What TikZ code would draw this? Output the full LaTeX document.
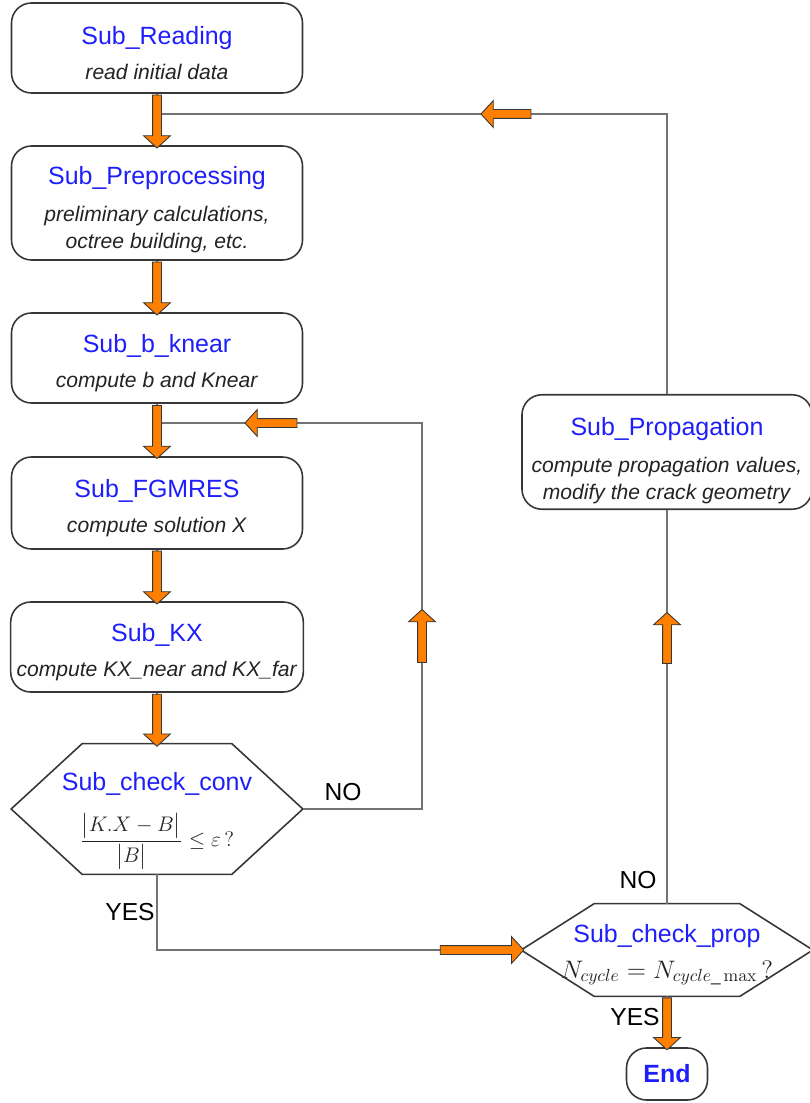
\documentclass[tikz,border=0pt]{standalone}
\usepackage{amsmath}
\usepackage[no-math]{fontspec}
\setmainfont{Liberation Sans}
\usepackage{tikz}
\usetikzlibrary{shapes.arrows, positioning}

\definecolor{subblue}{RGB}{30,30,250}
\definecolor{flowgray}{RGB}{115,115,115}
\definecolor{boxgray}{RGB}{55,55,55}
\definecolor{textgray}{RGB}{35,35,35}
\definecolor{arroworange}{RGB}{255,128,0}

\newcommand{\subname}[1]{\rule{0pt}{16pt}\textcolor{subblue}{\fontsize{14.2}{17}\selectfont #1}}

\begin{document}
\begin{tikzpicture}[x = 0.2mm, y = -0.2mm, font = \fontsize{12}{15}\selectfont]
  \tikzstyle{sub}    = [draw = boxgray, line width = 0.9pt, rounded corners = 4mm, minimum width = 58.2mm, align = center, text = textgray]
  \tikzstyle{hexnode} = [minimum width = 58.2mm, align = center, inner sep = 0pt, text = textgray]
  \tikzstyle{hexa}   = [draw = boxgray, line width = 0.9pt]
  \tikzstyle{flow}   = [draw = flowgray, line width = 1.1pt]
  \tikzstyle{fat}    = [single arrow, draw = boxgray, fill = arroworange, line width = 0.5pt, inner sep = 0.8mm, single arrow head extend = 1.8mm, single arrow tip angle = 95, minimum height = 10.6mm]
  \tikzstyle{answer} = [font = \fontsize{14}{17}\selectfont]

  \useasboundingbox (0,0) rectangle (809,1103);

  \node[sub, minimum height = 18mm]   (reading) at (157,48)  {\subname{Sub\_Reading}\\[5pt] \textit{read initial data}};
  \node[sub, minimum height = 22.8mm] (preproc) at (157,203) {\rule{0pt}{18pt}\subname{Sub\_Preprocessing}\\[6pt] \textit{preliminary calculations,}\\ \textit{octree building, etc.}};
  \node[sub, minimum height = 18mm]   (knear)   at (157,358) {\subname{Sub\_b\_knear}\\[5pt] \textit{compute b and Knear}};
  \node[sub, minimum height = 18.4mm] (fgmres)  at (157,503) {\subname{Sub\_FGMRES}\\[5pt] \textit{compute solution X}};
  \node[sub, minimum height = 18mm]   (kx)      at (157,647) {\subname{Sub\_KX}\\[5pt] \textit{compute KX\_near and KX\_far}};
  \node[hexnode, minimum height = 26mm] (conv)  at (157,809) {\rule{0pt}{24pt}\subname{Sub\_check\_conv}\\[9pt] {\fontsize{13}{15}\selectfont$\dfrac{\bigl|K.X-B\bigr|}{\bigl|B\bigr|}\le\varepsilon\,?$}};
  \node[sub, minimum width = 58mm, minimum height = 22.8mm] (propag) at (667,452) {\rule{0pt}{20pt}\subname{Sub\_Propagation}\\[6pt] \textit{compute propagation values,}\\ \textit{modify the crack geometry}};
  \node[hexnode, minimum height = 18.4mm] (prop) at (667,950) {\subname{Sub\_check\_prop}\\[5pt] {\fontsize{14}{17}\selectfont$N_{cycle} = N_{cycle\_\max}\,?$}};
  \node[sub, minimum width = 16.2mm, minimum height = 10.4mm] (endbox) at (667,1074) {\textcolor{subblue}{\fontsize{14.2}{17}\selectfont\bfseries End}};

  \draw[hexa] (conv.west) -- ([xshift = 14.2mm] conv.north west) -- ([xshift = -14.2mm] conv.north east) -- (conv.east)
              -- ([xshift = -14.2mm] conv.south east) -- ([xshift = 14.2mm] conv.south west) -- cycle;
  \draw[hexa] (prop.west) -- ([xshift = 14.6mm] prop.north west) -- ([xshift = -14.6mm] prop.north east) -- (prop.east)
              -- ([xshift = -14.6mm] prop.south east) -- ([xshift = 14.6mm] prop.south west) -- cycle;

  \coordinate (joinA) at (157,114);
  \coordinate (joinB) at (157,423);
  \coordinate (turnB) at (422,423);

  \draw[flow] (propag.north) |- (joinA);
  \draw[flow] (conv.east) -| (turnB) -- (joinB);
  \draw[flow] (conv.south) |- (prop.west);
  \draw[flow] (prop.north) -- (propag.south);

  \draw[flow] (reading) -- node[fat, sloped, allow upside down] (down1) {} (preproc);
  \draw[flow] (preproc) -- node[fat, sloped, allow upside down] (down2) {} (knear);
  \draw[flow] (knear)   -- node[fat, sloped, allow upside down] (down3) {} (fgmres);
  \draw[flow] (fgmres)  -- node[fat, sloped, allow upside down] (down4) {} (kx);
  \draw[flow] (kx)      -- node[fat, sloped, allow upside down, minimum height = 10.4mm] (down5) {} (conv);
  \draw[flow] (prop)    -- node[fat, sloped, allow upside down, minimum height = 10.4mm] (down6) {} (endbox);

  \node[fat, minimum height = 10mm, rotate = 180]   (backA) at (508,114) {};
  \node[fat, minimum height = 10.4mm, rotate = 180] (backB) at (273,423) {};
  \node[fat, minimum height = 10.6mm, rotate = 90]  (upB)   at (422,638) {};
  \node[fat, minimum height = 10.2mm, rotate = 90]  (upA)   at (667,640) {};
  \node[fat, minimum height = 16.7mm]               (yesgo) at (480,950) {};

  \node[answer] (noconv)  at (343,792)  {NO};
  \node[answer] (yesconv) at (130,912)  {YES};
  \node[answer] (noprop)  at (638,880)  {NO};
  \node[answer] (yesprop) at (635,1017) {YES};
\end{tikzpicture}
\end{document}
